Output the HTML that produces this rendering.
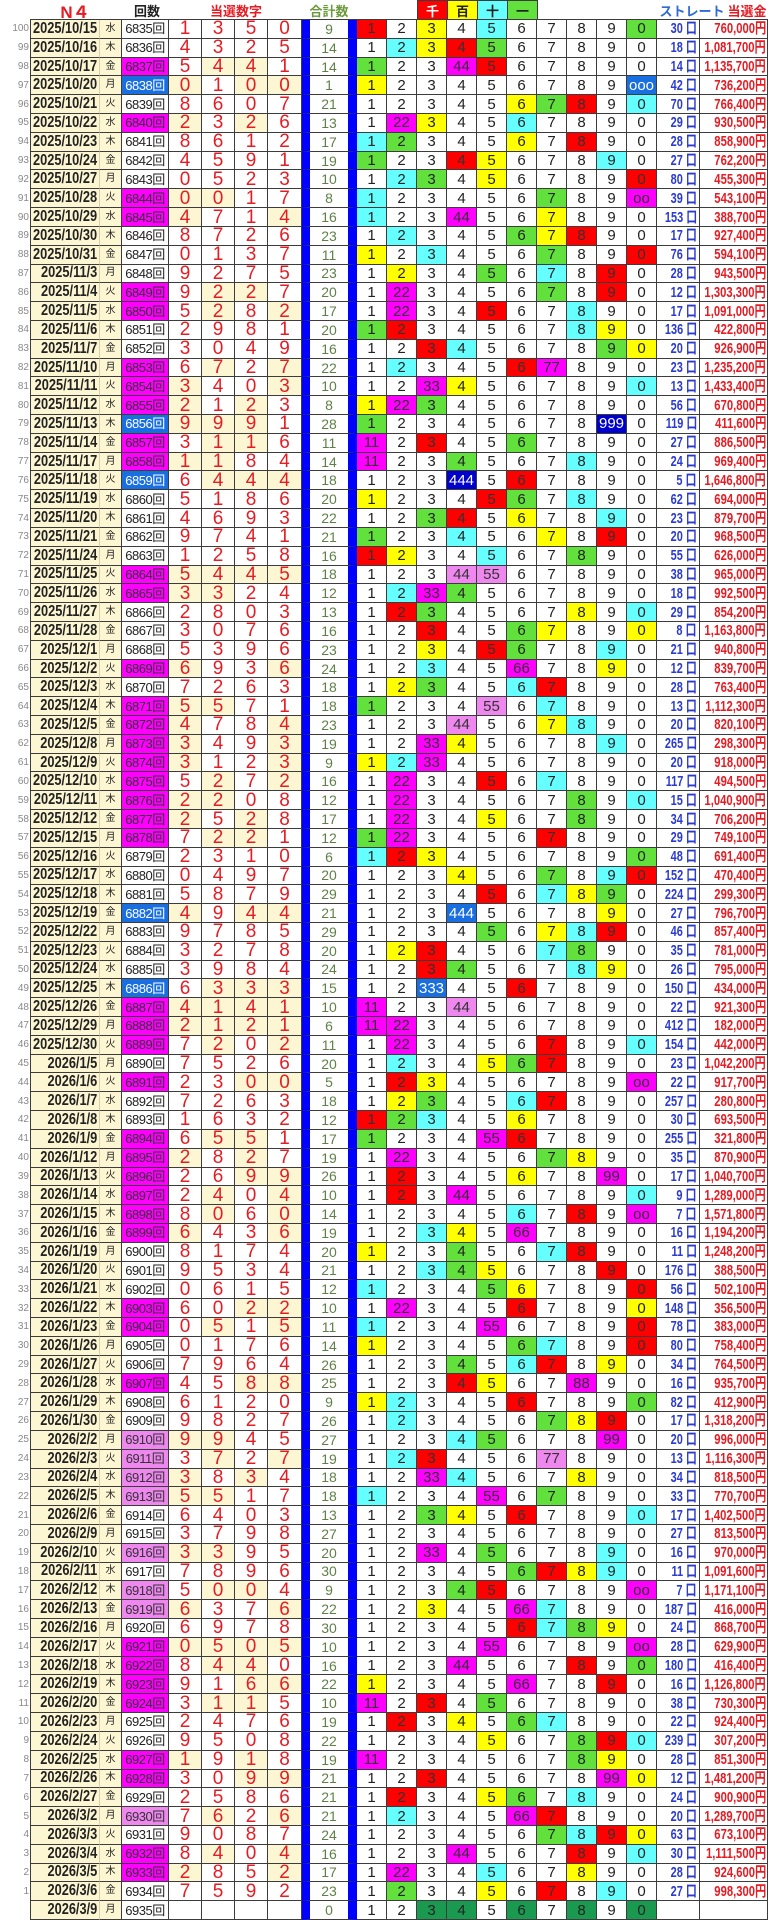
<!DOCTYPE html>
<html><head><meta charset="utf-8"><style>
*{box-sizing:border-box;margin:0;padding:0}
html,body{width:770px;height:1920px;background:#fff;overflow:hidden}
body{position:relative;font-family:"Liberation Sans","Noto Sans CJK JP",sans-serif;color:#222}
.h{position:absolute;top:0;height:20px;display:flex;align-items:center;justify-content:center;font-weight:bold;font-size:13px;white-space:nowrap}
.hb{position:absolute;top:0;height:20px;width:31px;display:flex;align-items:center;justify-content:center;font-size:13px;border:1px solid #3c3c3c;font-weight:bold}
#tl{position:absolute;left:30px;top:19px;width:738px;height:1px;background:#3c3c3c}
#g{position:absolute;left:0;top:20px;width:768px;height:1900px;display:grid;grid-template-columns:30px 70px 22px 47px 33px 33px 33px 34px 55px repeat(10,30px) 43px 68px;grid-template-rows:repeat(101,1fr)}
#g>div{display:flex;align-items:center;justify-content:center;border-right:1px solid #3c3c3c;border-bottom:1px solid #3c3c3c;font-size:15px;white-space:nowrap;overflow:hidden;line-height:1}
#g>.n{border:0;justify-content:flex-end;font-size:10px;color:#888;padding-right:1px}
#g>.d{border-left:1px solid #3c3c3c;border-right-color:#d8d0a8;background:#fdf6d2;justify-content:flex-end;padding-right:2px}
.d b{font-size:16px;font-weight:bold;display:inline-block;transform:scaleX(.8);transform-origin:right center}
#g>.w{background:#fdf6d2;font-size:10px}
#g>.k,#g>.km,#g>.kp,#g>.kb{font-size:13px;letter-spacing:-.5px}
#g>.km{background:#f0f;color:#333}
#g>.kp{background:#ee88ee;color:#333}
#g>.kb{background:#1a6fe0;color:#fff}
#g>.x,#g>.z{color:#e51c23;font-size:19px}
#g>.z{background:#fdf6d2}
#g>.s{border-left:8px solid #0000ff;border-right:9px solid #0000ff;color:#5f8048;font-size:14px}
#g>.r{background:#ff0000;color:#333}
#g>.yl{background:#ffff00}
#g>.cy{background:#66ffff}
#g>.gr{background:#62e03c}
#g>.mg{background:#ff00ff;color:#333}
#g>.pk{background:#ee88ee;color:#333}
#g>.bl{background:#1a6fe0;color:#fff}
#g>.db{background:#0000cc;color:#fff}
#g>.dg{background:#1a9a50;color:#222}
#g>.q{justify-content:flex-end;padding-right:2px;color:#2b3bd0}
#g>.y{justify-content:flex-end;padding-right:1px;color:#e51c23}
.q b,.y b{font-size:15px;font-weight:bold;display:inline-block;transform-origin:right center}
.q b{transform:scaleX(.73)}
.y b{transform:scaleX(.75)}
</style></head><body>
<div class=h style="left:55px;width:40px;color:#e51c23;font-size:17px">N４</div>
<div class=h style="left:125px;width:44px;color:#222">回数</div>
<div class=h style="left:200px;width:72px;color:#e51c23">当選数字</div>
<div class=h style="left:305px;width:48px;color:#6b9a3c">合計数</div>
<div class=hb style="left:417px;background:#ff0000;color:#fff">千</div>
<div class=hb style="left:447px;background:#ffff00">百</div>
<div class=hb style="left:477px;background:#66ffff">十</div>
<div class=hb style="left:507px;background:#62e03c">一</div>
<div class=h style="left:660px;width:64px;color:#2f6ad8">ストレート</div>
<div class=h style="left:726px;width:42px;color:#e51c23">当選金</div>
<div id=tl></div>
<div id=g>
<div class=n>100</div><div class=d><b>2025/10/15</b></div><div class=w>水</div><div class=k>6835回</div><div class=x>1</div><div class=x>3</div><div class=x>5</div><div class=x>0</div><div class=s>9</div><div class=r>1</div><div>2</div><div class=yl>3</div><div>4</div><div class=cy>5</div><div>6</div><div>7</div><div>8</div><div>9</div><div class=gr>0</div><div class=q><b>30 口</b></div><div class=y><b>760,000円</b></div>
<div class=n>99</div><div class=d><b>2025/10/16</b></div><div class=w>木</div><div class=k>6836回</div><div class=x>4</div><div class=x>3</div><div class=x>2</div><div class=x>5</div><div class=s>14</div><div>1</div><div class=cy>2</div><div class=yl>3</div><div class=r>4</div><div class=gr>5</div><div>6</div><div>7</div><div>8</div><div>9</div><div>0</div><div class=q><b>18 口</b></div><div class=y><b>1,081,700円</b></div>
<div class=n>98</div><div class=d><b>2025/10/17</b></div><div class=w>金</div><div class=km>6837回</div><div class=x>5</div><div class=z>4</div><div class=z>4</div><div class=x>1</div><div class=s>14</div><div class=gr>1</div><div>2</div><div>3</div><div class=mg>44</div><div class=r>5</div><div>6</div><div>7</div><div>8</div><div>9</div><div>0</div><div class=q><b>14 口</b></div><div class=y><b>1,135,700円</b></div>
<div class=n>97</div><div class=d><b>2025/10/20</b></div><div class=w>月</div><div class=kb>6838回</div><div class=z>0</div><div class=x>1</div><div class=z>0</div><div class=z>0</div><div class=s>1</div><div class=yl>1</div><div>2</div><div>3</div><div>4</div><div>5</div><div>6</div><div>7</div><div>8</div><div>9</div><div class=bl>ooo</div><div class=q><b>42 口</b></div><div class=y><b>736,200円</b></div>
<div class=n>96</div><div class=d><b>2025/10/21</b></div><div class=w>火</div><div class=k>6839回</div><div class=x>8</div><div class=x>6</div><div class=x>0</div><div class=x>7</div><div class=s>21</div><div>1</div><div>2</div><div>3</div><div>4</div><div>5</div><div class=yl>6</div><div class=gr>7</div><div class=r>8</div><div>9</div><div class=cy>0</div><div class=q><b>70 口</b></div><div class=y><b>766,400円</b></div>
<div class=n>95</div><div class=d><b>2025/10/22</b></div><div class=w>水</div><div class=km>6840回</div><div class=z>2</div><div class=x>3</div><div class=z>2</div><div class=x>6</div><div class=s>13</div><div>1</div><div class=mg>22</div><div class=yl>3</div><div>4</div><div>5</div><div class=cy>6</div><div>7</div><div>8</div><div>9</div><div>0</div><div class=q><b>29 口</b></div><div class=y><b>930,500円</b></div>
<div class=n>94</div><div class=d><b>2025/10/23</b></div><div class=w>木</div><div class=k>6841回</div><div class=x>8</div><div class=x>6</div><div class=x>1</div><div class=x>2</div><div class=s>17</div><div class=cy>1</div><div class=gr>2</div><div>3</div><div>4</div><div>5</div><div class=yl>6</div><div>7</div><div class=r>8</div><div>9</div><div>0</div><div class=q><b>28 口</b></div><div class=y><b>858,900円</b></div>
<div class=n>93</div><div class=d><b>2025/10/24</b></div><div class=w>金</div><div class=k>6842回</div><div class=x>4</div><div class=x>5</div><div class=x>9</div><div class=x>1</div><div class=s>19</div><div class=gr>1</div><div>2</div><div>3</div><div class=r>4</div><div class=yl>5</div><div>6</div><div>7</div><div>8</div><div class=cy>9</div><div>0</div><div class=q><b>27 口</b></div><div class=y><b>762,200円</b></div>
<div class=n>92</div><div class=d><b>2025/10/27</b></div><div class=w>月</div><div class=k>6843回</div><div class=x>0</div><div class=x>5</div><div class=x>2</div><div class=x>3</div><div class=s>10</div><div>1</div><div class=cy>2</div><div class=gr>3</div><div>4</div><div class=yl>5</div><div>6</div><div>7</div><div>8</div><div>9</div><div class=r>0</div><div class=q><b>80 口</b></div><div class=y><b>455,300円</b></div>
<div class=n>91</div><div class=d><b>2025/10/28</b></div><div class=w>火</div><div class=km>6844回</div><div class=z>0</div><div class=z>0</div><div class=x>1</div><div class=x>7</div><div class=s>8</div><div class=cy>1</div><div>2</div><div>3</div><div>4</div><div>5</div><div>6</div><div class=gr>7</div><div>8</div><div>9</div><div class=mg>oo</div><div class=q><b>39 口</b></div><div class=y><b>543,100円</b></div>
<div class=n>90</div><div class=d><b>2025/10/29</b></div><div class=w>水</div><div class=km>6845回</div><div class=z>4</div><div class=x>7</div><div class=x>1</div><div class=z>4</div><div class=s>16</div><div class=cy>1</div><div>2</div><div>3</div><div class=mg>44</div><div>5</div><div>6</div><div class=yl>7</div><div>8</div><div>9</div><div>0</div><div class=q><b>153 口</b></div><div class=y><b>388,700円</b></div>
<div class=n>89</div><div class=d><b>2025/10/30</b></div><div class=w>木</div><div class=k>6846回</div><div class=x>8</div><div class=x>7</div><div class=x>2</div><div class=x>6</div><div class=s>23</div><div>1</div><div class=cy>2</div><div>3</div><div>4</div><div>5</div><div class=gr>6</div><div class=yl>7</div><div class=r>8</div><div>9</div><div>0</div><div class=q><b>17 口</b></div><div class=y><b>927,400円</b></div>
<div class=n>88</div><div class=d><b>2025/10/31</b></div><div class=w>金</div><div class=k>6847回</div><div class=x>0</div><div class=x>1</div><div class=x>3</div><div class=x>7</div><div class=s>11</div><div class=yl>1</div><div>2</div><div class=cy>3</div><div>4</div><div>5</div><div>6</div><div class=gr>7</div><div>8</div><div>9</div><div class=r>0</div><div class=q><b>76 口</b></div><div class=y><b>594,100円</b></div>
<div class=n>87</div><div class=d><b>2025/11/3</b></div><div class=w>月</div><div class=k>6848回</div><div class=x>9</div><div class=x>2</div><div class=x>7</div><div class=x>5</div><div class=s>23</div><div>1</div><div class=yl>2</div><div>3</div><div>4</div><div class=gr>5</div><div>6</div><div class=cy>7</div><div>8</div><div class=r>9</div><div>0</div><div class=q><b>28 口</b></div><div class=y><b>943,500円</b></div>
<div class=n>86</div><div class=d><b>2025/11/4</b></div><div class=w>火</div><div class=km>6849回</div><div class=x>9</div><div class=z>2</div><div class=z>2</div><div class=x>7</div><div class=s>20</div><div>1</div><div class=mg>22</div><div>3</div><div>4</div><div>5</div><div>6</div><div class=gr>7</div><div>8</div><div class=r>9</div><div>0</div><div class=q><b>12 口</b></div><div class=y><b>1,303,300円</b></div>
<div class=n>85</div><div class=d><b>2025/11/5</b></div><div class=w>水</div><div class=km>6850回</div><div class=x>5</div><div class=z>2</div><div class=x>8</div><div class=z>2</div><div class=s>17</div><div>1</div><div class=mg>22</div><div>3</div><div>4</div><div class=r>5</div><div>6</div><div>7</div><div class=cy>8</div><div>9</div><div>0</div><div class=q><b>17 口</b></div><div class=y><b>1,091,000円</b></div>
<div class=n>84</div><div class=d><b>2025/11/6</b></div><div class=w>木</div><div class=k>6851回</div><div class=x>2</div><div class=x>9</div><div class=x>8</div><div class=x>1</div><div class=s>20</div><div class=gr>1</div><div class=r>2</div><div>3</div><div>4</div><div>5</div><div>6</div><div>7</div><div class=cy>8</div><div class=yl>9</div><div>0</div><div class=q><b>136 口</b></div><div class=y><b>422,800円</b></div>
<div class=n>83</div><div class=d><b>2025/11/7</b></div><div class=w>金</div><div class=k>6852回</div><div class=x>3</div><div class=x>0</div><div class=x>4</div><div class=x>9</div><div class=s>16</div><div>1</div><div>2</div><div class=r>3</div><div class=cy>4</div><div>5</div><div>6</div><div>7</div><div>8</div><div class=gr>9</div><div class=yl>0</div><div class=q><b>20 口</b></div><div class=y><b>926,900円</b></div>
<div class=n>82</div><div class=d><b>2025/11/10</b></div><div class=w>月</div><div class=km>6853回</div><div class=x>6</div><div class=z>7</div><div class=x>2</div><div class=z>7</div><div class=s>22</div><div>1</div><div class=cy>2</div><div>3</div><div>4</div><div>5</div><div class=r>6</div><div class=mg>77</div><div>8</div><div>9</div><div>0</div><div class=q><b>23 口</b></div><div class=y><b>1,235,200円</b></div>
<div class=n>81</div><div class=d><b>2025/11/11</b></div><div class=w>火</div><div class=km>6854回</div><div class=z>3</div><div class=x>4</div><div class=x>0</div><div class=z>3</div><div class=s>10</div><div>1</div><div>2</div><div class=mg>33</div><div class=yl>4</div><div>5</div><div>6</div><div>7</div><div>8</div><div>9</div><div class=cy>0</div><div class=q><b>13 口</b></div><div class=y><b>1,433,400円</b></div>
<div class=n>80</div><div class=d><b>2025/11/12</b></div><div class=w>水</div><div class=km>6855回</div><div class=z>2</div><div class=x>1</div><div class=z>2</div><div class=x>3</div><div class=s>8</div><div class=yl>1</div><div class=mg>22</div><div class=gr>3</div><div>4</div><div>5</div><div>6</div><div>7</div><div>8</div><div>9</div><div>0</div><div class=q><b>56 口</b></div><div class=y><b>670,800円</b></div>
<div class=n>79</div><div class=d><b>2025/11/13</b></div><div class=w>木</div><div class=kb>6856回</div><div class=z>9</div><div class=z>9</div><div class=z>9</div><div class=x>1</div><div class=s>28</div><div class=gr>1</div><div>2</div><div>3</div><div>4</div><div>5</div><div>6</div><div>7</div><div>8</div><div class=db>999</div><div>0</div><div class=q><b>119 口</b></div><div class=y><b>411,600円</b></div>
<div class=n>78</div><div class=d><b>2025/11/14</b></div><div class=w>金</div><div class=km>6857回</div><div class=x>3</div><div class=z>1</div><div class=z>1</div><div class=x>6</div><div class=s>11</div><div class=mg>11</div><div>2</div><div class=r>3</div><div>4</div><div>5</div><div class=gr>6</div><div>7</div><div>8</div><div>9</div><div>0</div><div class=q><b>27 口</b></div><div class=y><b>886,500円</b></div>
<div class=n>77</div><div class=d><b>2025/11/17</b></div><div class=w>月</div><div class=km>6858回</div><div class=z>1</div><div class=z>1</div><div class=x>8</div><div class=x>4</div><div class=s>14</div><div class=mg>11</div><div>2</div><div>3</div><div class=gr>4</div><div>5</div><div>6</div><div>7</div><div class=cy>8</div><div>9</div><div>0</div><div class=q><b>24 口</b></div><div class=y><b>969,400円</b></div>
<div class=n>76</div><div class=d><b>2025/11/18</b></div><div class=w>火</div><div class=kb>6859回</div><div class=x>6</div><div class=z>4</div><div class=z>4</div><div class=z>4</div><div class=s>18</div><div>1</div><div>2</div><div>3</div><div class=db>444</div><div>5</div><div class=r>6</div><div>7</div><div>8</div><div>9</div><div>0</div><div class=q><b>5 口</b></div><div class=y><b>1,646,800円</b></div>
<div class=n>75</div><div class=d><b>2025/11/19</b></div><div class=w>水</div><div class=k>6860回</div><div class=x>5</div><div class=x>1</div><div class=x>8</div><div class=x>6</div><div class=s>20</div><div class=yl>1</div><div>2</div><div>3</div><div>4</div><div class=r>5</div><div class=gr>6</div><div>7</div><div class=cy>8</div><div>9</div><div>0</div><div class=q><b>62 口</b></div><div class=y><b>694,000円</b></div>
<div class=n>74</div><div class=d><b>2025/11/20</b></div><div class=w>木</div><div class=k>6861回</div><div class=x>4</div><div class=x>6</div><div class=x>9</div><div class=x>3</div><div class=s>22</div><div>1</div><div>2</div><div class=gr>3</div><div class=r>4</div><div>5</div><div class=yl>6</div><div>7</div><div>8</div><div class=cy>9</div><div>0</div><div class=q><b>23 口</b></div><div class=y><b>879,700円</b></div>
<div class=n>73</div><div class=d><b>2025/11/21</b></div><div class=w>金</div><div class=k>6862回</div><div class=x>9</div><div class=x>7</div><div class=x>4</div><div class=x>1</div><div class=s>21</div><div class=gr>1</div><div>2</div><div>3</div><div class=cy>4</div><div>5</div><div>6</div><div class=yl>7</div><div>8</div><div class=r>9</div><div>0</div><div class=q><b>20 口</b></div><div class=y><b>968,500円</b></div>
<div class=n>72</div><div class=d><b>2025/11/24</b></div><div class=w>月</div><div class=k>6863回</div><div class=x>1</div><div class=x>2</div><div class=x>5</div><div class=x>8</div><div class=s>16</div><div class=r>1</div><div class=yl>2</div><div>3</div><div>4</div><div class=cy>5</div><div>6</div><div>7</div><div class=gr>8</div><div>9</div><div>0</div><div class=q><b>55 口</b></div><div class=y><b>626,000円</b></div>
<div class=n>71</div><div class=d><b>2025/11/25</b></div><div class=w>火</div><div class=km>6864回</div><div class=z>5</div><div class=z>4</div><div class=z>4</div><div class=z>5</div><div class=s>18</div><div>1</div><div>2</div><div>3</div><div class=pk>44</div><div class=pk>55</div><div>6</div><div>7</div><div>8</div><div>9</div><div>0</div><div class=q><b>38 口</b></div><div class=y><b>965,000円</b></div>
<div class=n>70</div><div class=d><b>2025/11/26</b></div><div class=w>水</div><div class=km>6865回</div><div class=z>3</div><div class=z>3</div><div class=x>2</div><div class=x>4</div><div class=s>12</div><div>1</div><div class=cy>2</div><div class=mg>33</div><div class=gr>4</div><div>5</div><div>6</div><div>7</div><div>8</div><div>9</div><div>0</div><div class=q><b>18 口</b></div><div class=y><b>992,500円</b></div>
<div class=n>69</div><div class=d><b>2025/11/27</b></div><div class=w>木</div><div class=k>6866回</div><div class=x>2</div><div class=x>8</div><div class=x>0</div><div class=x>3</div><div class=s>13</div><div>1</div><div class=r>2</div><div class=gr>3</div><div>4</div><div>5</div><div>6</div><div>7</div><div class=yl>8</div><div>9</div><div class=cy>0</div><div class=q><b>29 口</b></div><div class=y><b>854,200円</b></div>
<div class=n>68</div><div class=d><b>2025/11/28</b></div><div class=w>金</div><div class=k>6867回</div><div class=x>3</div><div class=x>0</div><div class=x>7</div><div class=x>6</div><div class=s>16</div><div>1</div><div>2</div><div class=r>3</div><div>4</div><div>5</div><div class=gr>6</div><div class=yl>7</div><div>8</div><div>9</div><div class=yl>0</div><div class=q><b>8 口</b></div><div class=y><b>1,163,800円</b></div>
<div class=n>67</div><div class=d><b>2025/12/1</b></div><div class=w>月</div><div class=k>6868回</div><div class=x>5</div><div class=x>3</div><div class=x>9</div><div class=x>6</div><div class=s>23</div><div>1</div><div>2</div><div class=yl>3</div><div>4</div><div class=r>5</div><div class=gr>6</div><div>7</div><div>8</div><div class=cy>9</div><div>0</div><div class=q><b>21 口</b></div><div class=y><b>940,800円</b></div>
<div class=n>66</div><div class=d><b>2025/12/2</b></div><div class=w>火</div><div class=km>6869回</div><div class=z>6</div><div class=x>9</div><div class=x>3</div><div class=z>6</div><div class=s>24</div><div>1</div><div>2</div><div class=cy>3</div><div>4</div><div>5</div><div class=mg>66</div><div>7</div><div>8</div><div class=yl>9</div><div>0</div><div class=q><b>12 口</b></div><div class=y><b>839,700円</b></div>
<div class=n>65</div><div class=d><b>2025/12/3</b></div><div class=w>水</div><div class=k>6870回</div><div class=x>7</div><div class=x>2</div><div class=x>6</div><div class=x>3</div><div class=s>18</div><div>1</div><div class=yl>2</div><div class=gr>3</div><div>4</div><div>5</div><div class=cy>6</div><div class=r>7</div><div>8</div><div>9</div><div>0</div><div class=q><b>28 口</b></div><div class=y><b>763,400円</b></div>
<div class=n>64</div><div class=d><b>2025/12/4</b></div><div class=w>木</div><div class=km>6871回</div><div class=z>5</div><div class=z>5</div><div class=x>7</div><div class=x>1</div><div class=s>18</div><div class=gr>1</div><div>2</div><div>3</div><div>4</div><div class=pk>55</div><div>6</div><div class=cy>7</div><div>8</div><div>9</div><div>0</div><div class=q><b>13 口</b></div><div class=y><b>1,112,300円</b></div>
<div class=n>63</div><div class=d><b>2025/12/5</b></div><div class=w>金</div><div class=km>6872回</div><div class=z>4</div><div class=x>7</div><div class=x>8</div><div class=z>4</div><div class=s>23</div><div>1</div><div>2</div><div>3</div><div class=pk>44</div><div>5</div><div>6</div><div class=yl>7</div><div class=cy>8</div><div>9</div><div>0</div><div class=q><b>20 口</b></div><div class=y><b>820,100円</b></div>
<div class=n>62</div><div class=d><b>2025/12/8</b></div><div class=w>月</div><div class=km>6873回</div><div class=z>3</div><div class=x>4</div><div class=x>9</div><div class=z>3</div><div class=s>19</div><div>1</div><div>2</div><div class=mg>33</div><div class=yl>4</div><div>5</div><div>6</div><div>7</div><div>8</div><div class=cy>9</div><div>0</div><div class=q><b>265 口</b></div><div class=y><b>298,300円</b></div>
<div class=n>61</div><div class=d><b>2025/12/9</b></div><div class=w>火</div><div class=km>6874回</div><div class=z>3</div><div class=x>1</div><div class=x>2</div><div class=z>3</div><div class=s>9</div><div class=yl>1</div><div class=cy>2</div><div class=mg>33</div><div>4</div><div>5</div><div>6</div><div>7</div><div>8</div><div>9</div><div>0</div><div class=q><b>20 口</b></div><div class=y><b>918,000円</b></div>
<div class=n>60</div><div class=d><b>2025/12/10</b></div><div class=w>水</div><div class=km>6875回</div><div class=x>5</div><div class=z>2</div><div class=x>7</div><div class=z>2</div><div class=s>16</div><div>1</div><div class=mg>22</div><div>3</div><div>4</div><div class=r>5</div><div>6</div><div class=cy>7</div><div>8</div><div>9</div><div>0</div><div class=q><b>117 口</b></div><div class=y><b>494,500円</b></div>
<div class=n>59</div><div class=d><b>2025/12/11</b></div><div class=w>木</div><div class=km>6876回</div><div class=z>2</div><div class=z>2</div><div class=x>0</div><div class=x>8</div><div class=s>12</div><div>1</div><div class=mg>22</div><div>3</div><div>4</div><div>5</div><div>6</div><div>7</div><div class=gr>8</div><div>9</div><div class=cy>0</div><div class=q><b>15 口</b></div><div class=y><b>1,040,900円</b></div>
<div class=n>58</div><div class=d><b>2025/12/12</b></div><div class=w>金</div><div class=km>6877回</div><div class=z>2</div><div class=x>5</div><div class=z>2</div><div class=x>8</div><div class=s>17</div><div>1</div><div class=mg>22</div><div>3</div><div>4</div><div class=yl>5</div><div>6</div><div>7</div><div class=gr>8</div><div>9</div><div>0</div><div class=q><b>34 口</b></div><div class=y><b>706,200円</b></div>
<div class=n>57</div><div class=d><b>2025/12/15</b></div><div class=w>月</div><div class=km>6878回</div><div class=x>7</div><div class=z>2</div><div class=z>2</div><div class=x>1</div><div class=s>12</div><div class=gr>1</div><div class=mg>22</div><div>3</div><div>4</div><div>5</div><div>6</div><div class=r>7</div><div>8</div><div>9</div><div>0</div><div class=q><b>29 口</b></div><div class=y><b>749,100円</b></div>
<div class=n>56</div><div class=d><b>2025/12/16</b></div><div class=w>火</div><div class=k>6879回</div><div class=x>2</div><div class=x>3</div><div class=x>1</div><div class=x>0</div><div class=s>6</div><div class=cy>1</div><div class=r>2</div><div class=yl>3</div><div>4</div><div>5</div><div>6</div><div>7</div><div>8</div><div>9</div><div class=gr>0</div><div class=q><b>48 口</b></div><div class=y><b>691,400円</b></div>
<div class=n>55</div><div class=d><b>2025/12/17</b></div><div class=w>水</div><div class=k>6880回</div><div class=x>0</div><div class=x>4</div><div class=x>9</div><div class=x>7</div><div class=s>20</div><div>1</div><div>2</div><div>3</div><div class=yl>4</div><div>5</div><div>6</div><div class=gr>7</div><div>8</div><div class=cy>9</div><div class=r>0</div><div class=q><b>152 口</b></div><div class=y><b>470,400円</b></div>
<div class=n>54</div><div class=d><b>2025/12/18</b></div><div class=w>木</div><div class=k>6881回</div><div class=x>5</div><div class=x>8</div><div class=x>7</div><div class=x>9</div><div class=s>29</div><div>1</div><div>2</div><div>3</div><div>4</div><div class=r>5</div><div>6</div><div class=cy>7</div><div class=yl>8</div><div class=gr>9</div><div>0</div><div class=q><b>224 口</b></div><div class=y><b>299,300円</b></div>
<div class=n>53</div><div class=d><b>2025/12/19</b></div><div class=w>金</div><div class=kb>6882回</div><div class=z>4</div><div class=x>9</div><div class=z>4</div><div class=z>4</div><div class=s>21</div><div>1</div><div>2</div><div>3</div><div class=bl>444</div><div>5</div><div>6</div><div>7</div><div>8</div><div class=yl>9</div><div>0</div><div class=q><b>27 口</b></div><div class=y><b>796,700円</b></div>
<div class=n>52</div><div class=d><b>2025/12/22</b></div><div class=w>月</div><div class=k>6883回</div><div class=x>9</div><div class=x>7</div><div class=x>8</div><div class=x>5</div><div class=s>29</div><div>1</div><div>2</div><div>3</div><div>4</div><div class=gr>5</div><div>6</div><div class=yl>7</div><div class=cy>8</div><div class=r>9</div><div>0</div><div class=q><b>46 口</b></div><div class=y><b>857,400円</b></div>
<div class=n>51</div><div class=d><b>2025/12/23</b></div><div class=w>火</div><div class=k>6884回</div><div class=x>3</div><div class=x>2</div><div class=x>7</div><div class=x>8</div><div class=s>20</div><div>1</div><div class=yl>2</div><div class=r>3</div><div>4</div><div>5</div><div>6</div><div class=cy>7</div><div class=gr>8</div><div>9</div><div>0</div><div class=q><b>35 口</b></div><div class=y><b>781,000円</b></div>
<div class=n>50</div><div class=d><b>2025/12/24</b></div><div class=w>水</div><div class=k>6885回</div><div class=x>3</div><div class=x>9</div><div class=x>8</div><div class=x>4</div><div class=s>24</div><div>1</div><div>2</div><div class=r>3</div><div class=gr>4</div><div>5</div><div>6</div><div>7</div><div class=cy>8</div><div class=yl>9</div><div>0</div><div class=q><b>26 口</b></div><div class=y><b>795,000円</b></div>
<div class=n>49</div><div class=d><b>2025/12/25</b></div><div class=w>木</div><div class=kb>6886回</div><div class=x>6</div><div class=z>3</div><div class=z>3</div><div class=z>3</div><div class=s>15</div><div>1</div><div>2</div><div class=bl>333</div><div>4</div><div>5</div><div class=r>6</div><div>7</div><div>8</div><div>9</div><div>0</div><div class=q><b>150 口</b></div><div class=y><b>434,000円</b></div>
<div class=n>48</div><div class=d><b>2025/12/26</b></div><div class=w>金</div><div class=km>6887回</div><div class=z>4</div><div class=z>1</div><div class=z>4</div><div class=z>1</div><div class=s>10</div><div class=mg>11</div><div>2</div><div>3</div><div class=pk>44</div><div>5</div><div>6</div><div>7</div><div>8</div><div>9</div><div>0</div><div class=q><b>22 口</b></div><div class=y><b>921,300円</b></div>
<div class=n>47</div><div class=d><b>2025/12/29</b></div><div class=w>月</div><div class=km>6888回</div><div class=z>2</div><div class=z>1</div><div class=z>2</div><div class=z>1</div><div class=s>6</div><div class=mg>11</div><div class=mg>22</div><div>3</div><div>4</div><div>5</div><div>6</div><div>7</div><div>8</div><div>9</div><div>0</div><div class=q><b>412 口</b></div><div class=y><b>182,000円</b></div>
<div class=n>46</div><div class=d><b>2025/12/30</b></div><div class=w>火</div><div class=km>6889回</div><div class=x>7</div><div class=z>2</div><div class=x>0</div><div class=z>2</div><div class=s>11</div><div>1</div><div class=mg>22</div><div>3</div><div>4</div><div>5</div><div>6</div><div class=r>7</div><div>8</div><div>9</div><div class=cy>0</div><div class=q><b>154 口</b></div><div class=y><b>442,000円</b></div>
<div class=n>45</div><div class=d><b>2026/1/5</b></div><div class=w>月</div><div class=k>6890回</div><div class=x>7</div><div class=x>5</div><div class=x>2</div><div class=x>6</div><div class=s>20</div><div>1</div><div class=cy>2</div><div>3</div><div>4</div><div class=yl>5</div><div class=gr>6</div><div class=r>7</div><div>8</div><div>9</div><div>0</div><div class=q><b>23 口</b></div><div class=y><b>1,042,200円</b></div>
<div class=n>44</div><div class=d><b>2026/1/6</b></div><div class=w>火</div><div class=km>6891回</div><div class=x>2</div><div class=x>3</div><div class=z>0</div><div class=z>0</div><div class=s>5</div><div>1</div><div class=r>2</div><div class=yl>3</div><div>4</div><div>5</div><div>6</div><div>7</div><div>8</div><div>9</div><div class=mg>oo</div><div class=q><b>22 口</b></div><div class=y><b>917,700円</b></div>
<div class=n>43</div><div class=d><b>2026/1/7</b></div><div class=w>水</div><div class=k>6892回</div><div class=x>7</div><div class=x>2</div><div class=x>6</div><div class=x>3</div><div class=s>18</div><div>1</div><div class=yl>2</div><div class=gr>3</div><div>4</div><div>5</div><div class=cy>6</div><div class=r>7</div><div>8</div><div>9</div><div>0</div><div class=q><b>257 口</b></div><div class=y><b>280,800円</b></div>
<div class=n>42</div><div class=d><b>2026/1/8</b></div><div class=w>木</div><div class=k>6893回</div><div class=x>1</div><div class=x>6</div><div class=x>3</div><div class=x>2</div><div class=s>12</div><div class=r>1</div><div class=gr>2</div><div class=cy>3</div><div>4</div><div>5</div><div class=yl>6</div><div>7</div><div>8</div><div>9</div><div>0</div><div class=q><b>30 口</b></div><div class=y><b>693,500円</b></div>
<div class=n>41</div><div class=d><b>2026/1/9</b></div><div class=w>金</div><div class=km>6894回</div><div class=x>6</div><div class=z>5</div><div class=z>5</div><div class=x>1</div><div class=s>17</div><div class=gr>1</div><div>2</div><div>3</div><div>4</div><div class=mg>55</div><div class=r>6</div><div>7</div><div>8</div><div>9</div><div>0</div><div class=q><b>255 口</b></div><div class=y><b>321,800円</b></div>
<div class=n>40</div><div class=d><b>2026/1/12</b></div><div class=w>月</div><div class=km>6895回</div><div class=z>2</div><div class=x>8</div><div class=z>2</div><div class=x>7</div><div class=s>19</div><div>1</div><div class=mg>22</div><div>3</div><div>4</div><div>5</div><div>6</div><div class=gr>7</div><div class=yl>8</div><div>9</div><div>0</div><div class=q><b>35 口</b></div><div class=y><b>870,900円</b></div>
<div class=n>39</div><div class=d><b>2026/1/13</b></div><div class=w>火</div><div class=km>6896回</div><div class=x>2</div><div class=x>6</div><div class=z>9</div><div class=z>9</div><div class=s>26</div><div>1</div><div class=r>2</div><div>3</div><div>4</div><div>5</div><div class=yl>6</div><div>7</div><div>8</div><div class=mg>99</div><div>0</div><div class=q><b>17 口</b></div><div class=y><b>1,040,700円</b></div>
<div class=n>38</div><div class=d><b>2026/1/14</b></div><div class=w>水</div><div class=km>6897回</div><div class=x>2</div><div class=z>4</div><div class=x>0</div><div class=z>4</div><div class=s>10</div><div>1</div><div class=r>2</div><div>3</div><div class=mg>44</div><div>5</div><div>6</div><div>7</div><div>8</div><div>9</div><div class=cy>0</div><div class=q><b>9 口</b></div><div class=y><b>1,289,000円</b></div>
<div class=n>37</div><div class=d><b>2026/1/15</b></div><div class=w>木</div><div class=km>6898回</div><div class=x>8</div><div class=z>0</div><div class=x>6</div><div class=z>0</div><div class=s>14</div><div>1</div><div>2</div><div>3</div><div>4</div><div>5</div><div class=cy>6</div><div>7</div><div class=r>8</div><div>9</div><div class=mg>oo</div><div class=q><b>7 口</b></div><div class=y><b>1,571,800円</b></div>
<div class=n>36</div><div class=d><b>2026/1/16</b></div><div class=w>金</div><div class=km>6899回</div><div class=z>6</div><div class=x>4</div><div class=x>3</div><div class=z>6</div><div class=s>19</div><div>1</div><div>2</div><div class=cy>3</div><div class=yl>4</div><div>5</div><div class=mg>66</div><div>7</div><div>8</div><div>9</div><div>0</div><div class=q><b>16 口</b></div><div class=y><b>1,194,200円</b></div>
<div class=n>35</div><div class=d><b>2026/1/19</b></div><div class=w>月</div><div class=k>6900回</div><div class=x>8</div><div class=x>1</div><div class=x>7</div><div class=x>4</div><div class=s>20</div><div class=yl>1</div><div>2</div><div>3</div><div class=gr>4</div><div>5</div><div>6</div><div class=cy>7</div><div class=r>8</div><div>9</div><div>0</div><div class=q><b>11 口</b></div><div class=y><b>1,248,200円</b></div>
<div class=n>34</div><div class=d><b>2026/1/20</b></div><div class=w>火</div><div class=k>6901回</div><div class=x>9</div><div class=x>5</div><div class=x>3</div><div class=x>4</div><div class=s>21</div><div>1</div><div>2</div><div class=cy>3</div><div class=gr>4</div><div class=yl>5</div><div>6</div><div>7</div><div>8</div><div class=r>9</div><div>0</div><div class=q><b>176 口</b></div><div class=y><b>388,500円</b></div>
<div class=n>33</div><div class=d><b>2026/1/21</b></div><div class=w>水</div><div class=k>6902回</div><div class=x>0</div><div class=x>6</div><div class=x>1</div><div class=x>5</div><div class=s>12</div><div class=cy>1</div><div>2</div><div>3</div><div>4</div><div class=gr>5</div><div class=yl>6</div><div>7</div><div>8</div><div>9</div><div class=r>0</div><div class=q><b>56 口</b></div><div class=y><b>502,100円</b></div>
<div class=n>32</div><div class=d><b>2026/1/22</b></div><div class=w>木</div><div class=km>6903回</div><div class=x>6</div><div class=x>0</div><div class=z>2</div><div class=z>2</div><div class=s>10</div><div>1</div><div class=mg>22</div><div>3</div><div>4</div><div>5</div><div class=r>6</div><div>7</div><div>8</div><div>9</div><div class=yl>0</div><div class=q><b>148 口</b></div><div class=y><b>356,500円</b></div>
<div class=n>31</div><div class=d><b>2026/1/23</b></div><div class=w>金</div><div class=km>6904回</div><div class=x>0</div><div class=z>5</div><div class=x>1</div><div class=z>5</div><div class=s>11</div><div class=cy>1</div><div>2</div><div>3</div><div>4</div><div class=mg>55</div><div>6</div><div>7</div><div>8</div><div>9</div><div class=r>0</div><div class=q><b>78 口</b></div><div class=y><b>383,000円</b></div>
<div class=n>30</div><div class=d><b>2026/1/26</b></div><div class=w>月</div><div class=k>6905回</div><div class=x>0</div><div class=x>1</div><div class=x>7</div><div class=x>6</div><div class=s>14</div><div class=yl>1</div><div>2</div><div>3</div><div>4</div><div>5</div><div class=gr>6</div><div class=cy>7</div><div>8</div><div>9</div><div class=r>0</div><div class=q><b>80 口</b></div><div class=y><b>758,400円</b></div>
<div class=n>29</div><div class=d><b>2026/1/27</b></div><div class=w>火</div><div class=k>6906回</div><div class=x>7</div><div class=x>9</div><div class=x>6</div><div class=x>4</div><div class=s>26</div><div>1</div><div>2</div><div>3</div><div class=gr>4</div><div>5</div><div class=cy>6</div><div class=r>7</div><div>8</div><div class=yl>9</div><div>0</div><div class=q><b>34 口</b></div><div class=y><b>764,500円</b></div>
<div class=n>28</div><div class=d><b>2026/1/28</b></div><div class=w>水</div><div class=km>6907回</div><div class=x>4</div><div class=x>5</div><div class=z>8</div><div class=z>8</div><div class=s>25</div><div>1</div><div>2</div><div>3</div><div class=r>4</div><div class=yl>5</div><div>6</div><div>7</div><div class=mg>88</div><div>9</div><div>0</div><div class=q><b>16 口</b></div><div class=y><b>935,700円</b></div>
<div class=n>27</div><div class=d><b>2026/1/29</b></div><div class=w>木</div><div class=k>6908回</div><div class=x>6</div><div class=x>1</div><div class=x>2</div><div class=x>0</div><div class=s>9</div><div class=yl>1</div><div class=cy>2</div><div>3</div><div>4</div><div>5</div><div class=r>6</div><div>7</div><div>8</div><div>9</div><div class=gr>0</div><div class=q><b>82 口</b></div><div class=y><b>412,900円</b></div>
<div class=n>26</div><div class=d><b>2026/1/30</b></div><div class=w>金</div><div class=k>6909回</div><div class=x>9</div><div class=x>8</div><div class=x>2</div><div class=x>7</div><div class=s>26</div><div>1</div><div class=cy>2</div><div>3</div><div>4</div><div>5</div><div>6</div><div class=gr>7</div><div class=yl>8</div><div class=r>9</div><div>0</div><div class=q><b>17 口</b></div><div class=y><b>1,318,200円</b></div>
<div class=n>25</div><div class=d><b>2026/2/2</b></div><div class=w>月</div><div class=kp>6910回</div><div class=z>9</div><div class=z>9</div><div class=x>4</div><div class=x>5</div><div class=s>27</div><div>1</div><div>2</div><div>3</div><div class=cy>4</div><div class=gr>5</div><div>6</div><div>7</div><div>8</div><div class=mg>99</div><div>0</div><div class=q><b>20 口</b></div><div class=y><b>996,000円</b></div>
<div class=n>24</div><div class=d><b>2026/2/3</b></div><div class=w>火</div><div class=kp>6911回</div><div class=x>3</div><div class=z>7</div><div class=x>2</div><div class=z>7</div><div class=s>19</div><div>1</div><div class=cy>2</div><div class=r>3</div><div>4</div><div>5</div><div>6</div><div class=pk>77</div><div>8</div><div>9</div><div>0</div><div class=q><b>13 口</b></div><div class=y><b>1,116,300円</b></div>
<div class=n>23</div><div class=d><b>2026/2/4</b></div><div class=w>水</div><div class=kp>6912回</div><div class=z>3</div><div class=x>8</div><div class=z>3</div><div class=x>4</div><div class=s>18</div><div>1</div><div>2</div><div class=mg>33</div><div class=cy>4</div><div>5</div><div>6</div><div>7</div><div class=yl>8</div><div>9</div><div>0</div><div class=q><b>34 口</b></div><div class=y><b>818,500円</b></div>
<div class=n>22</div><div class=d><b>2026/2/5</b></div><div class=w>木</div><div class=kp>6913回</div><div class=z>5</div><div class=z>5</div><div class=x>1</div><div class=x>7</div><div class=s>18</div><div class=cy>1</div><div>2</div><div>3</div><div>4</div><div class=mg>55</div><div>6</div><div class=gr>7</div><div>8</div><div>9</div><div>0</div><div class=q><b>33 口</b></div><div class=y><b>770,700円</b></div>
<div class=n>21</div><div class=d><b>2026/2/6</b></div><div class=w>金</div><div class=k>6914回</div><div class=x>6</div><div class=x>4</div><div class=x>0</div><div class=x>3</div><div class=s>13</div><div>1</div><div>2</div><div class=gr>3</div><div class=yl>4</div><div>5</div><div class=r>6</div><div>7</div><div>8</div><div>9</div><div class=cy>0</div><div class=q><b>17 口</b></div><div class=y><b>1,402,500円</b></div>
<div class=n>20</div><div class=d><b>2026/2/9</b></div><div class=w>月</div><div class=k>6915回</div><div class=x>3</div><div class=x>7</div><div class=x>9</div><div class=x>8</div><div class=s>27</div><div>1</div><div>2</div><div>3</div><div>4</div><div>5</div><div>6</div><div>7</div><div>8</div><div>9</div><div>0</div><div class=q><b>27 口</b></div><div class=y><b>813,500円</b></div>
<div class=n>19</div><div class=d><b>2026/2/10</b></div><div class=w>火</div><div class=kp>6916回</div><div class=z>3</div><div class=z>3</div><div class=x>9</div><div class=x>5</div><div class=s>20</div><div>1</div><div>2</div><div class=mg>33</div><div>4</div><div class=gr>5</div><div>6</div><div>7</div><div>8</div><div class=cy>9</div><div>0</div><div class=q><b>16 口</b></div><div class=y><b>970,000円</b></div>
<div class=n>18</div><div class=d><b>2026/2/11</b></div><div class=w>水</div><div class=k>6917回</div><div class=x>7</div><div class=x>8</div><div class=x>9</div><div class=x>6</div><div class=s>30</div><div>1</div><div>2</div><div>3</div><div>4</div><div>5</div><div class=gr>6</div><div class=r>7</div><div class=yl>8</div><div class=cy>9</div><div>0</div><div class=q><b>11 口</b></div><div class=y><b>1,091,600円</b></div>
<div class=n>17</div><div class=d><b>2026/2/12</b></div><div class=w>木</div><div class=kp>6918回</div><div class=x>5</div><div class=z>0</div><div class=z>0</div><div class=x>4</div><div class=s>9</div><div>1</div><div>2</div><div>3</div><div class=gr>4</div><div class=r>5</div><div>6</div><div>7</div><div>8</div><div>9</div><div class=mg>oo</div><div class=q><b>7 口</b></div><div class=y><b>1,171,100円</b></div>
<div class=n>16</div><div class=d><b>2026/2/13</b></div><div class=w>金</div><div class=kp>6919回</div><div class=z>6</div><div class=x>3</div><div class=x>7</div><div class=z>6</div><div class=s>22</div><div>1</div><div>2</div><div class=yl>3</div><div>4</div><div>5</div><div class=mg>66</div><div class=cy>7</div><div>8</div><div>9</div><div>0</div><div class=q><b>187 口</b></div><div class=y><b>416,000円</b></div>
<div class=n>15</div><div class=d><b>2026/2/16</b></div><div class=w>月</div><div class=k>6920回</div><div class=x>6</div><div class=x>9</div><div class=x>7</div><div class=x>8</div><div class=s>30</div><div>1</div><div>2</div><div>3</div><div>4</div><div>5</div><div class=r>6</div><div class=cy>7</div><div class=gr>8</div><div class=yl>9</div><div>0</div><div class=q><b>24 口</b></div><div class=y><b>868,700円</b></div>
<div class=n>14</div><div class=d><b>2026/2/17</b></div><div class=w>火</div><div class=km>6921回</div><div class=z>0</div><div class=z>5</div><div class=z>0</div><div class=z>5</div><div class=s>10</div><div>1</div><div>2</div><div>3</div><div>4</div><div class=mg>55</div><div>6</div><div>7</div><div>8</div><div>9</div><div class=mg>oo</div><div class=q><b>28 口</b></div><div class=y><b>629,900円</b></div>
<div class=n>13</div><div class=d><b>2026/2/18</b></div><div class=w>水</div><div class=km>6922回</div><div class=x>8</div><div class=z>4</div><div class=z>4</div><div class=x>0</div><div class=s>16</div><div>1</div><div>2</div><div>3</div><div class=mg>44</div><div>5</div><div>6</div><div>7</div><div class=r>8</div><div>9</div><div class=gr>0</div><div class=q><b>180 口</b></div><div class=y><b>416,400円</b></div>
<div class=n>12</div><div class=d><b>2026/2/19</b></div><div class=w>木</div><div class=km>6923回</div><div class=x>9</div><div class=x>1</div><div class=z>6</div><div class=z>6</div><div class=s>22</div><div class=yl>1</div><div>2</div><div>3</div><div>4</div><div>5</div><div class=mg>66</div><div>7</div><div>8</div><div class=r>9</div><div>0</div><div class=q><b>16 口</b></div><div class=y><b>1,126,800円</b></div>
<div class=n>11</div><div class=d><b>2026/2/20</b></div><div class=w>金</div><div class=km>6924回</div><div class=x>3</div><div class=z>1</div><div class=z>1</div><div class=x>5</div><div class=s>10</div><div class=mg>11</div><div>2</div><div class=r>3</div><div>4</div><div class=gr>5</div><div>6</div><div>7</div><div>8</div><div>9</div><div>0</div><div class=q><b>38 口</b></div><div class=y><b>730,300円</b></div>
<div class=n>10</div><div class=d><b>2026/2/23</b></div><div class=w>月</div><div class=k>6925回</div><div class=x>2</div><div class=x>4</div><div class=x>7</div><div class=x>6</div><div class=s>19</div><div>1</div><div class=r>2</div><div>3</div><div class=yl>4</div><div>5</div><div class=gr>6</div><div class=cy>7</div><div>8</div><div>9</div><div>0</div><div class=q><b>22 口</b></div><div class=y><b>924,400円</b></div>
<div class=n>9</div><div class=d><b>2026/2/24</b></div><div class=w>火</div><div class=k>6926回</div><div class=x>9</div><div class=x>5</div><div class=x>0</div><div class=x>8</div><div class=s>22</div><div>1</div><div>2</div><div>3</div><div>4</div><div class=yl>5</div><div>6</div><div>7</div><div class=gr>8</div><div class=r>9</div><div class=cy>0</div><div class=q><b>239 口</b></div><div class=y><b>307,200円</b></div>
<div class=n>8</div><div class=d><b>2026/2/25</b></div><div class=w>水</div><div class=km>6927回</div><div class=z>1</div><div class=x>9</div><div class=z>1</div><div class=x>8</div><div class=s>19</div><div class=mg>11</div><div>2</div><div>3</div><div>4</div><div>5</div><div>6</div><div>7</div><div class=gr>8</div><div class=yl>9</div><div>0</div><div class=q><b>28 口</b></div><div class=y><b>851,300円</b></div>
<div class=n>7</div><div class=d><b>2026/2/26</b></div><div class=w>木</div><div class=km>6928回</div><div class=x>3</div><div class=x>0</div><div class=z>9</div><div class=z>9</div><div class=s>21</div><div>1</div><div>2</div><div class=r>3</div><div>4</div><div>5</div><div>6</div><div>7</div><div>8</div><div class=mg>99</div><div class=yl>0</div><div class=q><b>12 口</b></div><div class=y><b>1,481,200円</b></div>
<div class=n>6</div><div class=d><b>2026/2/27</b></div><div class=w>金</div><div class=k>6929回</div><div class=x>2</div><div class=x>5</div><div class=x>8</div><div class=x>6</div><div class=s>21</div><div>1</div><div class=r>2</div><div>3</div><div>4</div><div class=yl>5</div><div class=gr>6</div><div>7</div><div class=cy>8</div><div>9</div><div>0</div><div class=q><b>24 口</b></div><div class=y><b>900,900円</b></div>
<div class=n>5</div><div class=d><b>2026/3/2</b></div><div class=w>月</div><div class=kp>6930回</div><div class=x>7</div><div class=z>6</div><div class=x>2</div><div class=z>6</div><div class=s>21</div><div>1</div><div class=cy>2</div><div>3</div><div>4</div><div>5</div><div class=mg>66</div><div class=r>7</div><div>8</div><div>9</div><div>0</div><div class=q><b>20 口</b></div><div class=y><b>1,289,700円</b></div>
<div class=n>4</div><div class=d><b>2026/3/3</b></div><div class=w>火</div><div class=k>6931回</div><div class=x>9</div><div class=x>0</div><div class=x>8</div><div class=x>7</div><div class=s>24</div><div>1</div><div>2</div><div>3</div><div>4</div><div>5</div><div>6</div><div class=gr>7</div><div class=cy>8</div><div class=r>9</div><div class=yl>0</div><div class=q><b>63 口</b></div><div class=y><b>673,100円</b></div>
<div class=n>3</div><div class=d><b>2026/3/4</b></div><div class=w>水</div><div class=km>6932回</div><div class=x>8</div><div class=z>4</div><div class=x>0</div><div class=z>4</div><div class=s>16</div><div>1</div><div>2</div><div>3</div><div class=mg>44</div><div>5</div><div>6</div><div>7</div><div class=r>8</div><div>9</div><div class=cy>0</div><div class=q><b>30 口</b></div><div class=y><b>1,111,500円</b></div>
<div class=n>2</div><div class=d><b>2026/3/5</b></div><div class=w>木</div><div class=km>6933回</div><div class=z>2</div><div class=x>8</div><div class=x>5</div><div class=z>2</div><div class=s>17</div><div>1</div><div class=mg>22</div><div>3</div><div>4</div><div class=cy>5</div><div>6</div><div>7</div><div class=yl>8</div><div>9</div><div>0</div><div class=q><b>28 口</b></div><div class=y><b>924,600円</b></div>
<div class=n>1</div><div class=d><b>2026/3/6</b></div><div class=w>金</div><div class=k>6934回</div><div class=x>7</div><div class=x>5</div><div class=x>9</div><div class=x>2</div><div class=s>23</div><div>1</div><div class=gr>2</div><div>3</div><div>4</div><div class=yl>5</div><div>6</div><div class=r>7</div><div>8</div><div class=cy>9</div><div>0</div><div class=q><b>27 口</b></div><div class=y><b>998,300円</b></div>
<div class=n></div><div class=d><b>2026/3/9</b></div><div class=w>月</div><div class=k>6935回</div><div class=x></div><div class=x></div><div class=x></div><div class=x></div><div class=s>0</div><div>1</div><div>2</div><div class=dg>3</div><div class=dg>4</div><div>5</div><div class=dg>6</div><div>7</div><div class=dg>8</div><div>9</div><div class=dg>0</div><div class=q></div><div class=y></div>
</div>
</body></html>
